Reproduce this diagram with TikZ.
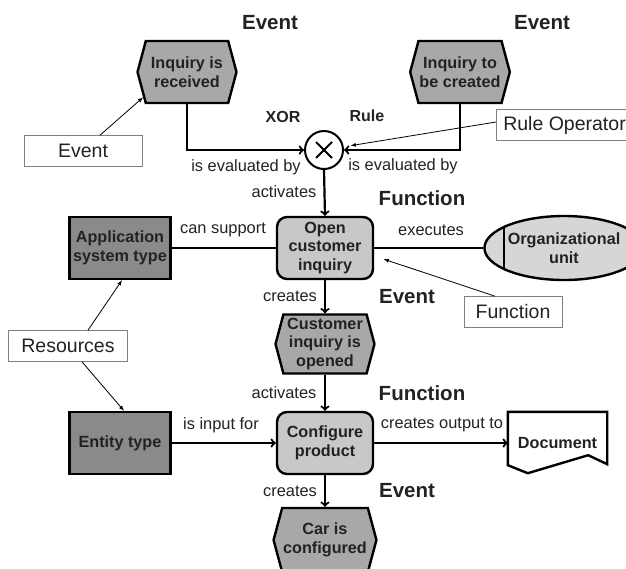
\documentclass[tikz,border=0pt]{standalone}
\usepackage{fontspec}
\setmainfont{Liberation Sans}
\usetikzlibrary{shapes.symbols, shapes.geometric}
\definecolor{evgray}{HTML}{A8A8A8}
\definecolor{fngray}{HTML}{C8C8C8}
\definecolor{resgray}{HTML}{8A8A8A}
\definecolor{orggray}{HTML}{D6D6D6}
\definecolor{ink}{HTML}{222222}
\newcommand{\nodefont}{\fontsize{16.2}{18.8}\selectfont\bfseries}
\newcommand{\lblfont}{\fontsize{16.4}{19}\selectfont}
\newcommand{\ttlfont}{\fontsize{20.5}{24}\selectfont\bfseries}
\newcommand{\opfont}{\fontsize{16}{19}\selectfont\bfseries}
\newcommand{\notefont}{\fontsize{19.5}{22}\selectfont}

\begin{document}
\begin{tikzpicture}
                \tikzset{x=1pt, y=-1pt, text=ink}
                \tikzstyle{event}=[signal, signal to=west and east, signal pointer angle=150, draw, line width=2.4pt, fill=evgray, minimum width=99pt, minimum height=62pt, inner sep=1pt, align=center, font=\nodefont]
                \tikzstyle{func}=[rectangle, rounded corners=10pt, draw, line width=2.4pt, fill=fngray, minimum width=96pt, minimum height=62pt, align=center, font=\nodefont]
                \tikzstyle{res}=[rectangle, draw, line width=2.4pt, fill=resgray, minimum width=101pt, minimum height=62pt, inner sep=1pt, align=center, font=\nodefont]
                \tikzstyle{note}=[rectangle, draw=gray, line width=0.6pt, fill=white, minimum height=31pt, font=\notefont]
                \tikzstyle{title}=[font=\ttlfont]
                \tikzstyle{lbl}=[font=\lblfont]
                \tikzstyle{flow}=[line width=2.2pt]
                \tikzstyle{pointer}=[-latex, line width=0.8pt]

                \useasboundingbox (0,0) rectangle (626,568);
                \clip (0,0) rectangle (626,568);

                % headings
                \draw (270,23)      node[title]     (h1)    {Event};
                \draw (542,23)      node[title]     (h2)    {Event};
                \draw (283,117)     node[font=\opfont]  (h3)    {XOR};
                \draw (367,116)     node[font=\opfont]  (h4)    {Rule};
                \draw (422,198)     node[title]     (h5)    {Function};
                \draw (407,297)     node[title]     (h6)    {Event};
                \draw (422,393)     node[title]     (h7)    {Function};
                \draw (407,491)     node[title]     (h8)    {Event};

                % process chain
                \draw (187,72)      node[event]     (ev1)   {Inquiry is\\received};
                \draw (460,72)      node[event]     (ev2)   {Inquiry to\\be created};
                \draw (324,150)     node[circle, draw, line width=2pt, fill=white, minimum size=38pt] (xor) {};
                \draw (325,248)     node[func]      (fn1)   {Open\\customer\\inquiry};
                \draw (325,344)     node[event, minimum height=59pt] (ev3) {Customer\\inquiry is\\opened};
                \draw (325,443)     node[func]      (fn2)   {Configure\\product};
                \draw (325,540)     node[event, minimum height=64pt] (ev4) {Car is\\configured};

                % resources
                \draw (120,248)     node[res]       (app)   {Application\\system type};
                \draw (120,443)     node[res]       (ent)   {Entity type};
                \draw (564,248)     node[ellipse, draw, line width=2.4pt, fill=orggray, minimum width=154pt, minimum height=64pt, inner sep=0pt, align=center, font=\nodefont] (org) {Organizational\\unit};
                \draw (557.5,443)   node[minimum width=99pt, minimum height=62pt, font=\nodefont] (doc) {Document};

                % shape details
                \draw [line width=2pt]  ([shift={(-8,-8)}]xor.center) -- ([shift={(8,8)}]xor.center);
                \draw [line width=2pt]  ([shift={(-8,8)}]xor.center) -- ([shift={(8,-8)}]xor.center);
                \draw [line width=2pt]  (org.160) -- (org.200);
                \draw [line width=2.4pt, line join=miter] ([shift={(0,-9)}]doc.south west) -- (doc.north west) -- (doc.north east) -- ([shift={(0,-10)}]doc.south east) -- ([shift={(-19,-19)}]doc.south east) -- ([shift={(20,-1)}]doc.south west) -- cycle;

                % notes
                \draw (83,151)      node[note, minimum width=118pt] (evnote)   {Event};
                \draw (496,125)     node[note, anchor=west, inner xsep=7pt] (rulenote) {Rule Operator};
                \draw (513,312)     node[note, minimum width=98pt]  (fnnote)   {Function};
                \draw (68,346)      node[note, minimum width=119pt] (resnote)  {Resources};

                % control flow
                \draw [flow, ->]    (ev1.south) |- (xor.west);
                \draw [flow, ->]    (ev2.south) |- (xor.east);
                \draw [flow, ->]    (xor.south) -- (fn1.north);
                \draw [flow, ->]    (fn1.south) -- (ev3.north);
                \draw [flow, ->]    (ev3.south) -- (fn2.north);
                \draw [flow, ->]    (fn2.south) -- (ev4.north);

                % resource links
                \draw [flow]        (app.east) -- (fn1.west);
                \draw [flow]        (fn1.east) -- (org.west);
                \draw [flow, ->]    (ent.east) -- (fn2.west);
                \draw [flow, ->]    (fn2.east) -- (doc.west);

                % link labels
                \draw (246,167)     node[lbl]       (l1)    {is evaluated by};
                \draw (403,166)     node[lbl]       (l2)    {is evaluated by};
                \draw (284,192)     node[lbl]       (l3)    {activates};
                \draw (223,230)     node[lbl]       (l4)    {can support};
                \draw (431,230)     node[lbl]       (l5)    {executes};
                \draw (290,296)     node[lbl]       (l6)    {creates};
                \draw (284,393)     node[lbl]       (l7)    {activates};
                \draw (221,425)     node[lbl]       (l8)    {is input for};
                \draw (442,425)     node[lbl]       (l9)    {creates output to};
                \draw (290,491)     node[lbl]       (l10)   {creates};

                % note arrows
                \draw [pointer]     ([xshift=17pt]evnote.north) -- (ev1.210);
                \draw [pointer, shorten >=7pt] ([yshift=3pt]rulenote.west) -- (xor);
                \draw [pointer, shorten >=10pt] ([xshift=-18pt]fnnote.north) -- ([yshift=-8pt]fn1.east);
                \draw [pointer]     ([xshift=20pt]resnote.north) -- ([xshift=2pt]app.south);
                \draw [pointer]     ([xshift=14pt]resnote.south) -- ([xshift=4pt]ent.north);
            \end{tikzpicture}
\end{document}
